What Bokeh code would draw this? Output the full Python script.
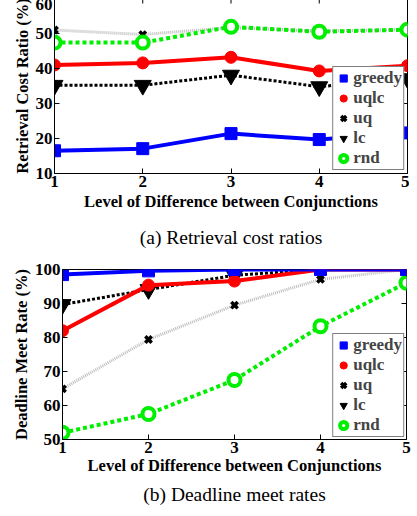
import math
from bokeh.plotting import figure
from bokeh.models import Range1d, Title, Legend, LegendItem, FixedTicker
from bokeh.layouts import column
from bokeh.embed import file_html
from bokeh.resources import INLINE

levels = [1, 2, 3, 4, 5]
x_ticks = [1, 2, 3, 4, 5]

# (a) Retrieval cost ratios (%)
greedy_a = [16.5, 17.1, 21.4, 19.7, 21.6]
uqlc_a = [41.0, 41.6, 43.2, 39.3, 40.8]
uq_a = [51.0, 49.7, 51.7, 50.7, 51.1]
lc_a = [35.2, 35.2, 38.1, 34.8, 37.1]
rnd_a = [47.4, 47.4, 51.9, 50.5, 51.1]
y_ticks_a = [10, 20, 30, 40, 50, 60]

# (b) Deadline meet rates (%)
greedy_b = [98.5, 99.6, 100, 100, 100]
uqlc_b = [82.0, 95.4, 96.6, 100, 100]
uq_b = [64.9, 79.4, 89.5, 97.1, 100]
lc_b = [89.7, 94.1, 98.3, 100, 100]
rnd_b = [52.0, 57.5, 67.5, 83.3, 96.1]
y_ticks_b = [50, 60, 70, 80, 90, 100]

SERIF = "Liberation Serif"


def make_fig(series, yr, yticks, xlabel, ylabel, caption, fw, fh, bl, bt, br,
             legend_margin, margin, cap_standoff, xlab_standoff):
    p = figure(frame_width=fw, frame_height=fh, x_range=Range1d(1, 5), y_range=Range1d(*yr),
               output_backend="svg", toolbar_location=None, min_border_left=bl, min_border_top=bt,
               min_border_right=br, min_border_bottom=0)
    p.margin = margin
    p.grid.visible = False
    p.outline_line_color = "black"
    p.outline_line_width = 1
    p.xaxis.ticker = FixedTicker(ticks=x_ticks)
    p.yaxis.ticker = FixedTicker(ticks=yticks)
    for ax in [p.xaxis[0], p.yaxis[0]]:
        ax.major_label_text_font = SERIF
        ax.major_label_text_font_style = "bold"
        ax.major_label_text_font_size = "17px"
        ax.major_label_text_color = "black"
        ax.axis_label_text_font = SERIF
        ax.axis_label_text_font_style = "bold"
        ax.axis_label_text_font_size = "16.5px"
        ax.axis_label_text_color = "black"
        ax.major_tick_in = 5
        ax.major_tick_out = 0
        ax.minor_tick_line_color = None
        ax.axis_line_color = "black"
    p.xaxis.major_label_standoff = 2
    p.yaxis.major_label_standoff = 2
    p.xaxis.axis_label = xlabel
    p.yaxis.axis_label = ylabel
    p.xaxis.axis_label_standoff = xlab_standoff
    p.yaxis.axis_label_standoff = 1

    # mirrored inward tick marks on the right and top borders (half clipped by the frame)
    p.scatter([x_ticks[-1]] * len(yticks), yticks, marker="dash", size=10, line_color="black", line_width=1)
    p.scatter(x_ticks, [yr[1]] * len(x_ticks), marker="dash", size=10, angle=math.pi / 2,
              line_color="black", line_width=1)

    g, u, q, l, r = series
    # uq (gray dotted, black x)
    p.line(levels, q, line_color="#bdbdbd", line_width=3, line_dash="1 1")
    m_q = p.scatter(levels, q, marker="x", size=9, line_color="black", line_width=3.5)
    # lc
    p.line(levels, l, line_color="black", line_width=3, line_dash="3 2")
    m_l = p.scatter(levels, l, marker="inverted_triangle", size=17, fill_color="black", line_color="black")
    # rnd
    p.line(levels, r, line_color="#00ee00", line_width=4, line_dash="4 3")
    m_r = p.scatter(levels, r, marker="circle", size=12, fill_color="white", line_color="#00ee00", line_width=4)
    # uqlc
    p.line(levels, u, line_color="#ff0000", line_width=4)
    m_u = p.scatter(levels, u, marker="circle", size=12, fill_color="#ff0000", line_color="#ff0000")
    # greedy
    p.line(levels, g, line_color="#0000ff", line_width=4)
    m_g = p.scatter(levels, g, marker="square", size=12, fill_color="#0000ff", line_color="#0000ff")

    items = [LegendItem(label="greedy", renderers=[m_g]),
             LegendItem(label="uqlc", renderers=[m_u]),
             LegendItem(label="uq", renderers=[m_q]),
             LegendItem(label="lc", renderers=[m_l]),
             LegendItem(label="rnd", renderers=[m_r])]
    leg = Legend(items=items, location="bottom_right", margin=legend_margin, padding=1, spacing=0,
                 label_text_font=SERIF, label_text_font_style="bold", label_text_font_size="17px",
                 label_height=20, glyph_height=20, glyph_width=18, label_standoff=1,
                 border_line_color="black", border_line_width=1.5, background_fill_alpha=1)
    p.add_layout(leg, "center")

    p.add_layout(Title(text=caption, align="center", text_font=SERIF, text_font_style="normal",
                       text_font_size="19.5px", text_color="black", standoff=cap_standoff), "below")
    return p


p1 = make_fig([greedy_a, uqlc_a, uq_a, lc_a, rnd_a], (10, 60), y_ticks_a,
              "Level of Difference between Conjunctions", "Retrieval Cost Ratio (%)",
              "(a) Retrieval cost ratios", 353, 175, 47, 0, 9, 3, (-2, 0, 0, 0), 23, 2)
p2 = make_fig([greedy_b, uqlc_b, uq_b, lc_b, rnd_b], (50, 100), y_ticks_b,
              "Level of Difference between Conjunctions", "Deadline Meet Rate (%)",
              "(b) Deadline meet rates", 344, 170, 47, 10, 10, 2, (0, 0, 0, 8), 8, 0)

layout = column(p1, p2, spacing=0)
open("out.html", "w").write(file_html(layout, INLINE))
